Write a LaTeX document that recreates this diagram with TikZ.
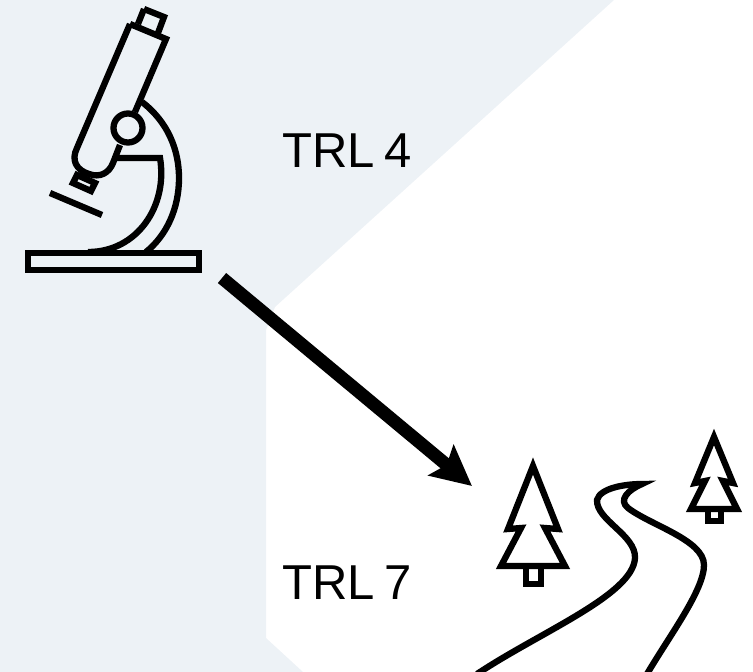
\documentclass[tikz,border=0pt]{standalone}
\usepackage{fontspec}
\setmainfont[WordSpace=0.7]{Liberation Sans}
\usetikzlibrary{arrows.meta}
\definecolor{panelblue}{HTML}{EDF2F6}
\tikzset{
outline/.style={line width=6.3pt,miter limit=12},
trllabel/.style={font=\fontsize{49}{49}\selectfont,inner sep=0pt,anchor=base west},
}
\begin{document}
\begin{tikzpicture}[x=1pt,y=-1pt]
\useasboundingbox (0,0) rectangle (753,672);
\clip (0,0) rectangle (753,672);
% background
\fill[panelblue] (0,0) -- (614,0) -- (275,307) -- (266,330) -- (266,638) -- (303,672) -- (0,672) -- cycle;
% microscope
\draw[outline] (144,9) -- (164,17) -- (158,33);
\draw[outline] (144,9) -- (138,24);
\draw[outline] (130,24) -- (166,39) -- (135,112);
\draw[outline] (130,24) -- (77,148) .. controls (71,160) and (76,170) .. (89,174) .. controls (100,178) and (109,173) .. (113,163) -- (120,145);
\draw[outline] (77,175) -- (95,183) -- (91,191) -- (73,183) -- cycle;
\draw[outline] (50,193) -- (102,215);
\draw[outline] (128,128) circle (14.5);
\draw[outline] (142,102) .. controls (168,122) and (179,150) .. (179,178) .. controls (179,208) and (167,235) .. (146,252);
\draw[outline] (117,158) -- (160,158) .. controls (168,205) and (138,252) .. (88,252);
\draw[outline] (28,253) rectangle (199,270);
% trees
\draw[outline] (533,466) -- (558,529) -- (545,528) -- (565,566) -- (501,566) -- (521,528) -- (508,529) -- cycle;
\draw[outline] (526,568) -- (526,584) -- (541,584) -- (541,568);
\draw[outline] (714,437) -- (733,483) -- (723,481) -- (737,509) -- (691,509) -- (705,481) -- (695,483) -- cycle;
\draw[outline] (708,510) -- (708,521) -- (721,521) -- (721,510);
% road
\draw[outline] (477,674) .. controls (540,632) and (633,595) .. (635,558) .. controls (636,535) and (596,520) .. (597,500) .. controls (600,488) and (625,484) .. (642,484) .. controls (628,490) and (618,500) .. (628,508) .. controls (650,525) and (704,540) .. (704,565) .. controls (704,590) and (670,635) .. (647,674);
% arrow
\coordinate (scopeend) at (222,278);
\coordinate (roadstart) at (472,486);
\draw[line width=13pt,-{Stealth[length=40pt,width=39pt,inset=7pt]}] (scopeend) -- (roadstart);
% labels
\node[trllabel] (trlfour) at (282,167.5) {TRL 4};
\node[trllabel] (trlseven) at (282,599) {TRL 7};
\end{tikzpicture}
\end{document}
